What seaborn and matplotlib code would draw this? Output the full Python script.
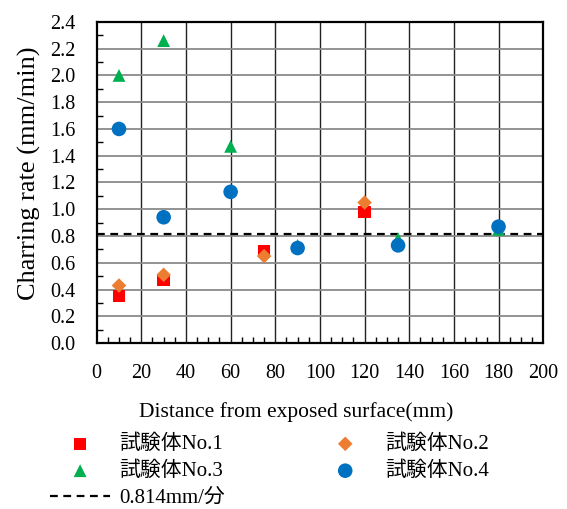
import matplotlib
matplotlib.use("Agg")
import matplotlib.pyplot as plt
from matplotlib.ticker import MultipleLocator
import seaborn as sns
import pandas as pd

# ---- data ----
names = ["試験体No.1", "試験体No.2", "試験体No.3", "試験体No.4"]
x_no1 = [10, 30, 75, 120]
y_no1 = [0.35, 0.47, 0.69, 0.98]
x_no2 = [10, 30, 75, 120]
y_no2 = [0.43, 0.51, 0.65, 1.05]
x_no3 = [10, 30, 60, 90, 135, 180]
y_no3 = [2.00, 2.26, 1.47, 0.73, 0.78, 0.85]
x_no4 = [10, 30, 60, 90, 135, 180]
y_no4 = [1.60, 0.94, 1.13, 0.71, 0.73, 0.87]
ref_rate = 0.814
ref_label = "0.814mm/分"

colors = ["#FF0000", "#ED7D31", "#00B050", "#0070C0"]
markers = ["s", "D", "^", "o"]
sizes = [80, 55, 85, 110]

sns.set_theme(style="white")
plt.rcParams["font.family"] = ["Liberation Serif", "Noto Sans CJK JP"]
plt.rcParams["text.color"] = "black"
plt.rcParams["axes.labelcolor"] = "black"

fig = plt.figure(figsize=(5.67, 5.09), dpi=100)
ax = fig.add_axes([0.1705, 0.326, 0.7875, 0.631])

xs = [x_no1, x_no2, x_no3, x_no4]
ys = [y_no1, y_no2, y_no3, y_no4]
for name, xv, yv, c, m, s in zip(names, xs, ys, colors, markers, sizes):
    df = pd.DataFrame({"x": xv, "y": yv})
    sns.scatterplot(data=df, x="x", y="y", ax=ax, color=c, marker=m, s=s,
                    edgecolor="none", linewidth=0, label=name, zorder=3)

ax.axhline(ref_rate, color="black", linestyle=(0, (3.5, 2.5)), linewidth=1.6,
           label=ref_label, zorder=2.5)

ax.set_xlim(0, 200)
ax.set_ylim(0, 2.4)
ax.xaxis.set_major_locator(MultipleLocator(20))
ax.xaxis.set_minor_locator(MultipleLocator(5))
ax.yaxis.set_major_locator(MultipleLocator(0.2))
ax.yaxis.set_minor_locator(MultipleLocator(0.1))
ax.yaxis.set_major_formatter(matplotlib.ticker.FormatStrFormatter("%.1f"))

ax.grid(False)
for v in range(20, 200, 20):
    ax.axvline(v, color="#222222", linewidth=1.0, zorder=1)
for k in range(1, 12):
    ax.axhline(k * 0.2, color="#8a8a8a", linewidth=1.3, zorder=1)

ax.tick_params(axis="both", which="both", direction="in", colors="black",
               labelsize=14.5, labelcolor="black")
ax.tick_params(axis="both", which="major", length=0)
ax.tick_params(axis="x", which="minor", bottom=True, length=4, width=1)
ax.tick_params(axis="y", which="minor", left=True, length=4, width=1)
ax.tick_params(axis="x", which="major", pad=15)
ax.tick_params(axis="y", which="major", pad=15)

for sp in ax.spines.values():
    sp.set_visible(True)
    sp.set_color("black")
    sp.set_linewidth(1.6)

ax.set_xlabel("Distance from exposed surface(mm)", fontsize=15.5, color="black")
ax.set_ylabel("Charring rate (mm/min)", fontsize=19, color="black")
ax.xaxis.set_label_coords(0.4465, -0.183)
ax.yaxis.set_label_coords(-0.125, 0.53)

if ax.get_legend():
    ax.get_legend().remove()
h, l = ax.get_legend_handles_labels()
order = [l.index(names[0]), l.index(names[2]), l.index(ref_label),
         l.index(names[1]), l.index(names[3])]
leg = fig.legend([h[i] for i in order], [l[i] for i in order], loc="upper left",
                 bbox_to_anchor=(0.088, 0.146), ncol=2, frameon=False, fontsize=15,
                 handlelength=2.9, handletextpad=0.45, columnspacing=4.3,
                 labelspacing=0.35, borderpad=0, borderaxespad=0, markerscale=1.0)
for t in leg.get_texts():
    t.set_color("black")

fig.savefig("out.png", dpi=100)
